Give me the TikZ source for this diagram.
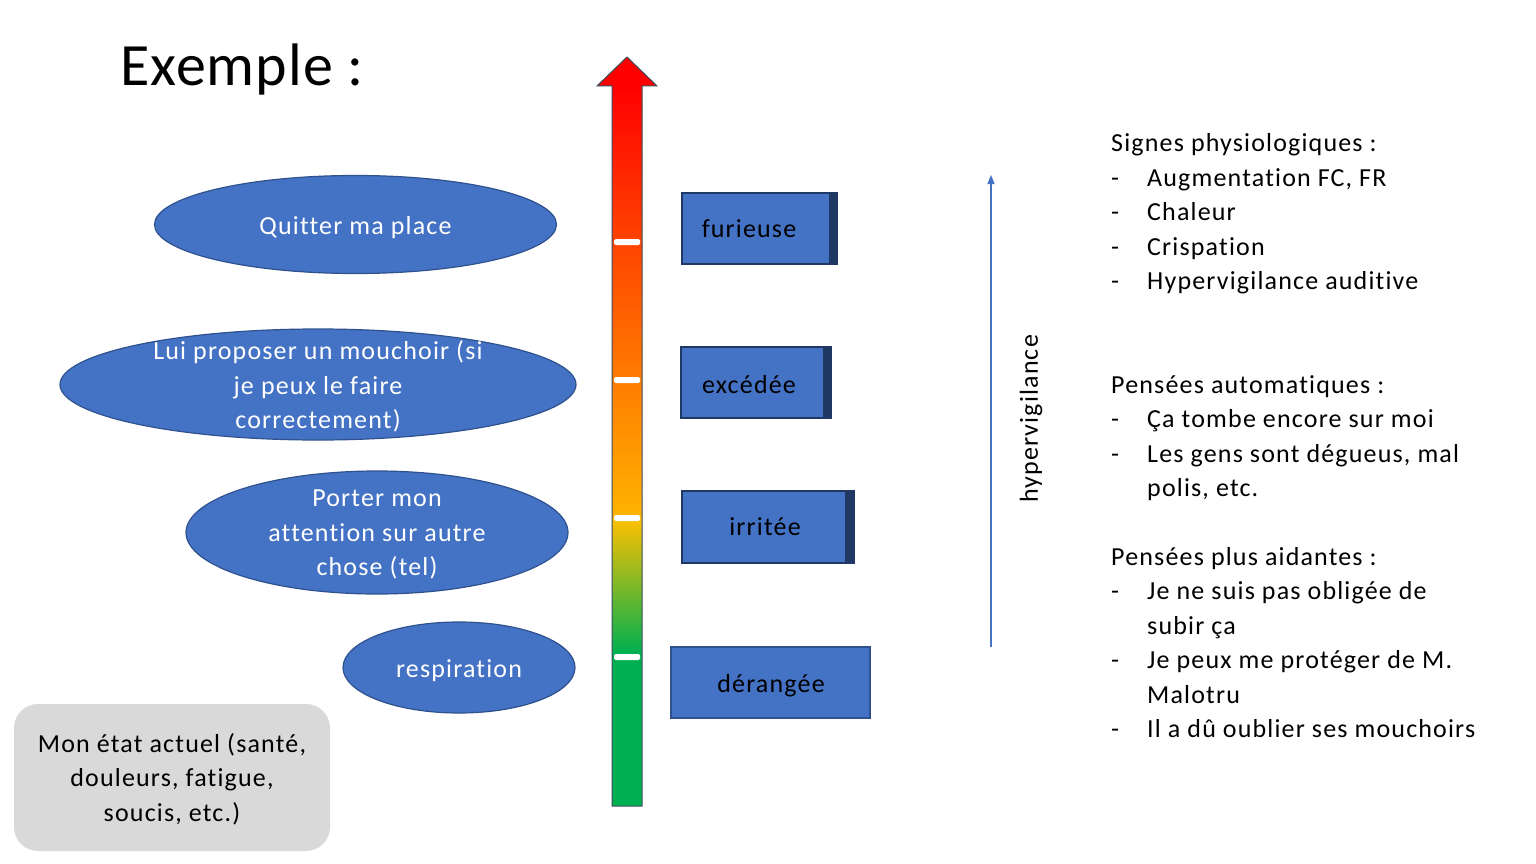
\documentclass[tikz,border=0pt]{standalone}
\usepackage{fontspec}
\setmainfont{Carlito}[LetterSpace=4.5,Ligatures=NoCommon]
\newfontfamily\titlefont{Carlito}[LetterSpace=1.8,Ligatures=NoCommon]
\usetikzlibrary{shapes.geometric,arrows.meta}
\definecolor{boxblue}{HTML}{4472C4}
\definecolor{boxline}{HTML}{2F528F}
\definecolor{boxdark}{HTML}{1F3864}
\definecolor{graybox}{HTML}{D9D9D9}
\definecolor{arrowline}{HTML}{3B4A5E}
\definecolor{cA}{HTML}{FF0000}
\definecolor{cB}{HTML}{FF4400}
\definecolor{cC}{HTML}{FF7C00}
\definecolor{cD}{HTML}{FFB400}
\definecolor{cE}{HTML}{FFC000}
\definecolor{cF}{HTML}{00B050}
\begin{document}
\begin{tikzpicture}[x=1pt,y=-1pt,
  txt/.style={font=\fontsize{26}{34.5}\selectfont, inner sep=0pt},
  oval/.style={ellipse, fill=boxblue, draw=boxline, line width=1.2pt, inner sep=0pt},
  ovaltxt/.style={txt, text=white, align=center},
  lvlbox/.style={rectangle, fill=boxblue, draw=boxdark, line width=1.5pt, inner sep=0pt},
  lvltxt/.style={txt, text=black, anchor=base},
  sidetxt/.style={txt, anchor=base west},
  tickmark/.style={fill=white, rounded corners=1.5pt}
]
\useasboundingbox (0,0) rectangle (1536,864);
\fill[white] (0,0) rectangle (1536,864);

% title
\node[inner sep=0pt, anchor=base west, font=\titlefont\fontsize{60}{72}\selectfont] (title) at (120,86) {Exemple :};

% thermometer
\fill[top color=cA, bottom color=cB] (612,86) rectangle (642,242);
\fill[top color=cB, bottom color=cC] (612,242) rectangle (642,380);
\fill[top color=cC, bottom color=cD] (612,380) rectangle (642,518);
\fill[top color=cE, bottom color=cF] (612,518) rectangle (642,652);
\fill[cF] (612,652) rectangle (642,806);
\fill[cA] (597,86) -- (627,57) -- (657,86) -- cycle;
\fill[cA] (612,84) rectangle (642,88);
\draw[arrowline, line width=1pt, line join=miter] (612,806) -- (612,86) -- (597,86) -- (627,57) -- (657,86) -- (642,86) -- (642,806) -- cycle;
\foreach \ty in {242,380,518,657} {
  \fill[tickmark] (614,\ty-3) rectangle (640,\ty+3);
}

% ovals
\node[oval, minimum width=402pt, minimum height=98pt] (o1) at (355.5,224.5) {};
\node[ovaltxt, anchor=base] (o1t) at (355.5,234) {Quitter ma place};
\node[oval, minimum width=516pt, minimum height=111pt] (o2) at (318,384.5) {};
\node[ovaltxt] (o2t) at (318,386.5) {Lui proposer un mouchoir (si\\je peux le faire\\correctement)};
\node[oval, minimum width=382pt, minimum height=123pt] (o3) at (377,532.5) {};
\node[ovaltxt] (o3t) at (377,534.5) {Porter mon\\attention sur autre\\chose (tel)};
\node[oval, minimum width=232pt, minimum height=91pt] (o4) at (459,667.5) {};
\node[ovaltxt, anchor=base] (o4t) at (459,677.5) {respiration};

% gray box
\node[rectangle, fill=graybox, rounded corners=24pt, minimum width=316pt, minimum height=147pt, inner sep=0pt] (state) at (172,777.5) {};
\node[txt, align=center] (statet) at (172,779) {Mon état actuel (santé,\\douleurs, fatigue,\\soucis, etc.)};

% level boxes
\node[lvlbox, minimum width=155pt, minimum height=71pt] (b1) at (759.5,228.5) {};
\fill[boxdark] (b1.north east) ++(-8.5,0) rectangle (b1.south east);
\node[lvltxt] (b1t) at (749,237) {furieuse};
\node[lvlbox, minimum width=150pt, minimum height=71pt] (b2) at (756,382.5) {};
\fill[boxdark] (b2.north east) ++(-9,0) rectangle (b2.south east);
\node[lvltxt] (b2t) at (749,393.5) {excédée};
\node[lvlbox, minimum width=172pt, minimum height=72pt] (b3) at (768,527) {};
\fill[boxdark] (b3.north east) ++(-9.5,0) rectangle (b3.south east);
\node[lvltxt] (b3t) at (765,535.5) {irritée};
\node[lvlbox, draw=boxline, line width=1.2pt, minimum width=199pt, minimum height=71pt] (b4) at (770.5,682.5) {};
\node[lvltxt] (b4t) at (771,692) {dérangée};

% hypervigilance arrow
\coordinate (hvS) at (991,647);
\coordinate (hvE) at (991,175);
\draw[boxblue, line width=1.3pt, -{Triangle[length=9pt,width=7pt]}] (hvS) -- (hvE);
\node[txt, rotate=90] (hvl) at (1031,419) {hypervigilance};

% right text
\node[sidetxt] (s1) at (1111,151.5) {Signes physiologiques :};
\node[sidetxt] (s1a) at (1111,186) {-};
\node[sidetxt] (s1at) at (1147,186) {Augmentation FC, FR};
\node[sidetxt] (s1b) at (1111,220.5) {-};
\node[sidetxt] (s1bt) at (1147,220.5) {Chaleur};
\node[sidetxt] (s1c) at (1111,255) {-};
\node[sidetxt] (s1ct) at (1147,255) {Crispation};
\node[sidetxt] (s1d) at (1111,289.5) {-};
\node[sidetxt] (s1dt) at (1147,289.5) {Hypervigilance auditive};

\node[sidetxt] (s2) at (1111,393) {Pensées automatiques :};
\node[sidetxt] (s2a) at (1111,427.5) {-};
\node[sidetxt] (s2at) at (1147,427.5) {Ça tombe encore sur moi};
\node[sidetxt] (s2b) at (1111,462) {-};
\node[sidetxt] (s2bt) at (1147,462) {Les gens sont dégueus, mal};
\node[sidetxt] (s2bu) at (1147,496.5) {polis, etc.};

\node[sidetxt] (s3) at (1111,565) {Pensées plus aidantes :};
\node[sidetxt] (s3a) at (1111,599.5) {-};
\node[sidetxt] (s3at) at (1147,599.5) {Je ne suis pas obligée de};
\node[sidetxt] (s3au) at (1147,634) {subir ça};
\node[sidetxt] (s3b) at (1111,668.5) {-};
\node[sidetxt] (s3bt) at (1147,668.5) {Je peux me protéger de M.};
\node[sidetxt] (s3bu) at (1147,703) {Malotru};
\node[sidetxt] (s3c) at (1111,737.5) {-};
\node[sidetxt] (s3ct) at (1147,737.5) {Il a dû oublier ses mouchoirs};
\end{tikzpicture}
\end{document}
